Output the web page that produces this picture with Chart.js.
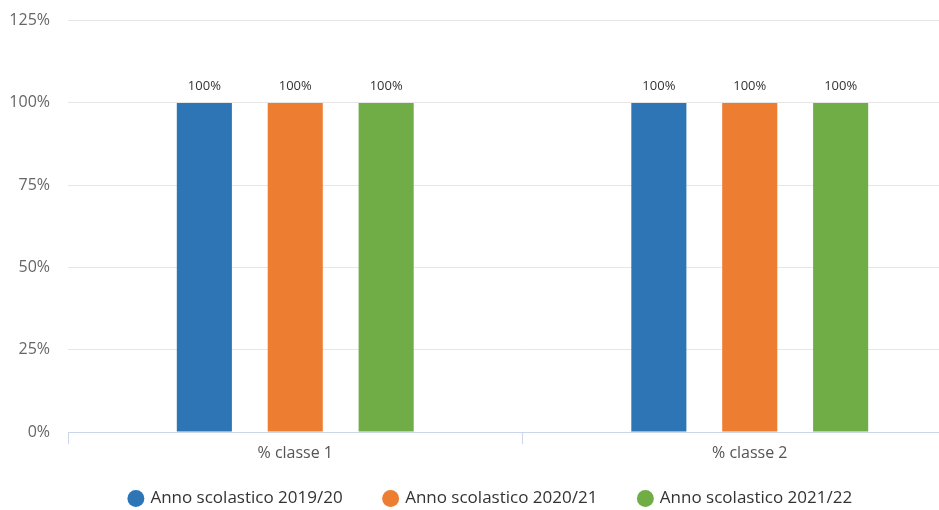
<!DOCTYPE html>
<html>
<head>
<meta charset="utf-8">
<script src="https://cdn.jsdelivr.net/npm/chart.js@4/dist/chart.umd.min.js"></script>
<style>
  html, body { margin: 0; padding: 0; background: #fff; overflow: hidden; width: 939px; height: 510px; }
  #wrap { width: 977px; height: 524px; position: absolute; left: 0; top: -7px; }
</style>
</head>
<body>
<div id="wrap"><canvas id="c"></canvas></div>
<script>
const categories = ['% classe 1', '% classe 2'];
const seriesNames = ['Anno scolastico 2019/20', 'Anno scolastico 2020/21', 'Anno scolastico 2021/22'];
const values2019 = [100, 100];
const values2020 = [100, 100];
const values2021 = [100, 100];
const colors = ['#2E75B6', '#ED7D31', '#70AD47'];
const yTicks = [0, 25, 50, 75, 100, 125];

const FONT = "'Open Sans', sans-serif";

const valueLabels = {
  id: 'valueLabels',
  afterDatasetsDraw(chart) {
    const ctx = chart.ctx;
    ctx.save();
    ctx.font = "13px " + FONT;
    ctx.fillStyle = '#333333';
    ctx.textAlign = 'center';
    ctx.textBaseline = 'middle';
    chart.data.datasets.forEach((ds, i) => {
      const meta = chart.getDatasetMeta(i);
      meta.data.forEach((bar, j) => {
        ctx.fillText(ds.data[j] + '%', bar.x, bar.y - 17);
      });
    });
    ctx.restore();
  }
};

new Chart(document.getElementById('c'), {
  type: 'bar',
  data: {
    labels: categories,
    datasets: [
      { label: seriesNames[0], data: values2019, backgroundColor: colors[0] },
      { label: seriesNames[1], data: values2020, backgroundColor: colors[1] },
      { label: seriesNames[2], data: values2021, backgroundColor: colors[2] }
    ]
  },
  options: {
    responsive: true,
    maintainAspectRatio: false,
    animation: false,
    layout: { padding: { top: 5, right: 0, left: 5, bottom: 0 } },
    datasets: { bar: { categoryPercentage: 0.6, barPercentage: 0.606 } },
    plugins: {
      legend: {
        position: 'bottom',
        labels: {
          usePointStyle: true,
          pointStyle: 'circle',
          boxWidth: 12,
          boxHeight: 12,
          padding: 42,
          color: '#333333',
          font: { family: FONT, size: 17 }
        }
      },
      tooltip: { enabled: false }
    },
    scales: {
      x: {
        afterFit(scale) {
          scale.height = 16;
          scale._computeLabelArea = function () { return undefined; };
        },
        grid: {
          offset: true,
          drawOnChartArea: false,
          drawTicks: true,
          tickLength: 12,
          color: '#ccd6eb'
        },
        border: { color: '#ccd6eb' },
        ticks: { color: '#555555', font: { family: FONT, size: 16 }, padding: 0 }
      },
      y: {
        min: 0,
        max: 125,
        afterBuildTicks(axis) { axis.ticks = yTicks.map(v => ({ value: v })); },
        afterFit(scale) { scale.width = 63; },
        grid: { color: '#e6e6e6', drawTicks: false },
        border: { display: false },
        ticks: {
          color: '#666666',
          font: { family: FONT, size: 16 },
          padding: 18,
          callback: v => v + '%'
        }
      }
    }
  },
  plugins: [valueLabels]
});
</script>
</body>
</html>
